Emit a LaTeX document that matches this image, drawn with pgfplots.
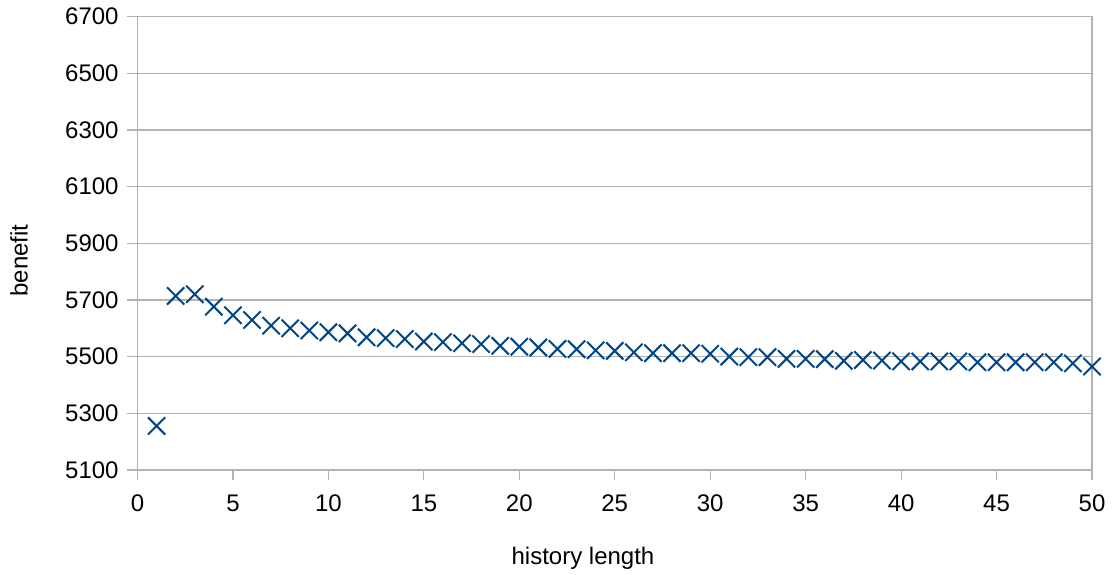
\documentclass[border=0pt]{standalone}
\usepackage{pgfplots}
\pgfplotsset{compat=1.18}
\usepackage{fontspec}
\setmainfont{Liberation Sans}

\definecolor{seriesblue}{HTML}{004586}
\definecolor{gridgray}{HTML}{B3B3B3}

\begin{document}
\begin{tikzpicture}
\begin{axis}[
  scale only axis,
  width=477.25pt, height=226.65pt,
  xmin=0, xmax=50, ymin=5100, ymax=6700,
  xtick={0,5,...,50},
  ytick={5100,5300,...,6700},
  ymajorgrids,
  grid style={gridgray, line width=0.6pt},
  axis line style={gridgray, line width=0.6pt},
  tick style={gridgray, line width=0.6pt},
  tick align=outside,
  major tick length=5.25pt,
  xtick pos=bottom, ytick pos=left,
  /pgf/number format/assume math mode=true,
  /pgf/number format/1000 sep={},
  ticklabel style={font=\fontsize{12}{14}\selectfont, text=black},
  xticklabel style={anchor=base, inner sep=0pt, yshift=-15.75pt},
  yticklabel style={anchor=east, inner sep=0pt, xshift=-4pt},
  clip=false,
]
\addplot[only marks, mark=x, mark size=6.1pt, seriesblue,
         mark options={line width=1pt}] coordinates {
  (1,5255) (2,5714) (3,5720) (4,5676) (5,5646) (6,5629) (7,5609) (8,5600)
  (9,5592) (10,5586) (11,5582) (12,5568) (13,5565) (14,5562) (15,5553)
  (16,5551) (17,5547) (18,5544) (19,5538) (20,5535) (21,5532) (22,5527)
  (23,5526) (24,5522) (25,5520) (26,5515) (27,5512) (28,5512) (29,5512)
  (30,5510) (31,5500) (32,5498) (33,5498) (34,5492) (35,5492) (36,5491)
  (37,5485) (38,5488) (39,5486) (40,5483) (41,5483) (42,5483) (43,5483)
  (44,5480) (45,5480) (46,5480) (47,5480) (48,5480) (49,5476) (50,5465)
};
\node[anchor=base, font=\fontsize{12}{14}\selectfont, inner sep=0pt]
  at (rel axis cs:0.4667,0) [yshift=-47.05pt] {history length};
\node[xshift=-59.25pt, rotate=90, font=\fontsize{12}{14}\selectfont, inner sep=0pt]
  at (rel axis cs:0,0.462) {benefit};
\end{axis}
\pgfresetboundingbox
\path (-68.75pt,-52.05pt) rectangle (488.75pt,234.95pt);
\end{tikzpicture}
\end{document}
